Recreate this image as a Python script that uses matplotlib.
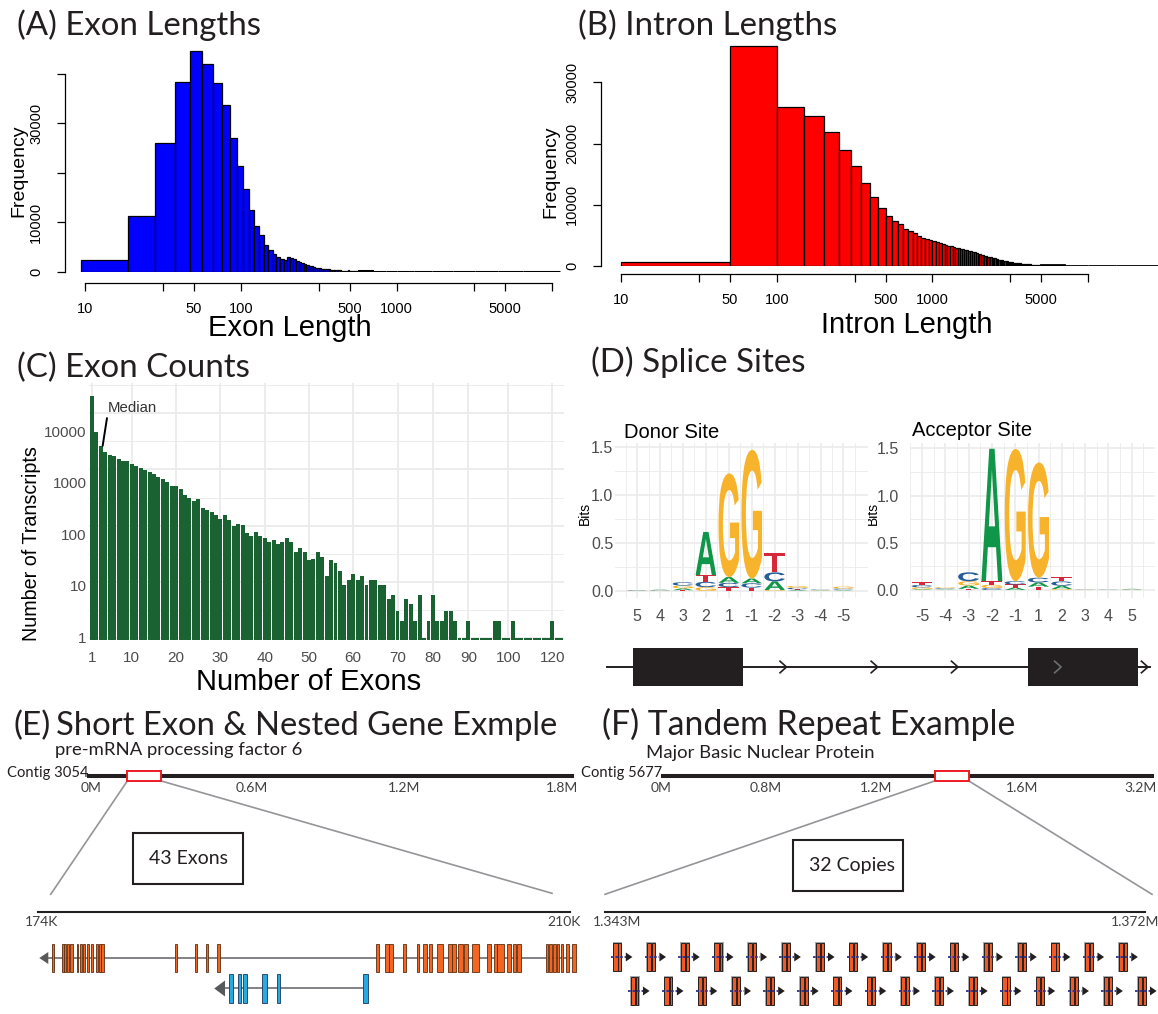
import numpy as np
import matplotlib.pyplot as plt
from matplotlib.patches import Rectangle, Polygon, PathPatch
from matplotlib.textpath import TextPath
from matplotlib.font_manager import FontProperties
from matplotlib.transforms import Affine2D
from matplotlib.ticker import NullFormatter, NullLocator

plt.rcParams['font.family'] = 'Liberation Sans'

W, H = 1158, 1014

# ---- (A) exon lengths: counts per 9.4 bp bin, first bin starts at 9.4 bp
exon_bin_width = 9.4
exon_counts = [2300, 11350, 26000, 38400, 44700, 42000, 38100, 33700, 27000, 21300,
               16800, 12400, 9350, 7350, 5450, 4300, 3650, 3000, 2600, 2300,
               2900, 2850, 2500, 2250, 2050, 1850, 1650, 1450, 1250, 1100,
               960, 820, 750, 690, 630, 580, 540, 500, 460, 420,
               390, 360, 330, 300, 270, 250, 230, 210, 190, 170,
               150, 300, 130, 115, 100, 90, 80, 70, 65, 60]
# long tail, merged into wider bins (counts per 9.4 bp)
exon_tail_edges = [573.4, 700, 850, 1000, 1300, 1700, 2300, 3200, 4500, 6500, 11300]
exon_tail_counts = [45, 30, 20, 12, 7, 4, 3, 2, 1, 1]

# ---- (B) intron lengths: counts per 50 bp bin, bins from 0 bp to 4950 bp
intron_bin_width = 50
intron_counts = [600, 36000, 26050, 24470, 21850, 18960, 16350, 13620, 11280, 9480,
                 8170, 7300, 6810, 6100, 5780, 5340, 4900, 4630, 4420, 4250,
                 4100, 3920, 3760, 3610, 3470, 3340, 3220, 3110, 3000, 2900,
                 2800, 2710, 2630, 2560, 2490, 2420, 2330, 2230, 2140, 2040,
                 1950, 1860, 1780, 1700, 1620, 1550, 1480, 1410, 1350, 1290,
                 1230, 1170, 1120, 1060, 1010, 960, 910, 860, 820, 780,
                 740, 710, 680, 650, 620, 595, 570, 545, 520, 500,
                 480, 460, 440, 420, 400, 385, 370, 355, 340, 325,
                 310, 295, 280, 270, 258, 246, 235, 225, 215, 205,
                 196, 188, 180, 172, 165, 158, 151, 145, 139, 133]
intron_tail_edges = [5000, 7000, 10000, 15000, 28000]
intron_tail_counts = [90, 40, 15, 4]

len_tick_labels = [10, 50, 100, 500, 1000, 5000]
len_minor_ticks = [10 ** 1.5, 10 ** 2.5, 10 ** 3.5, 10 ** 4]

# ---- (C) number of transcripts per exon count
c_exons = list(range(1, 71)) + [71, 72, 73, 74, 75, 76, 78, 80,
                                 81, 82, 83, 84, 85, 86, 88, 90,
                                 91, 92, 93, 94, 95, 96, 97, 99, 100,
                                 101, 102, 103, 105, 106, 108, 110, 113, 117, 120,
                                 122, 127]
c_counts = [20400, 4560, 2630, 2050, 1810, 1740, 1520, 1420, 1410, 1250,
            1150, 1050, 980, 900, 830, 740, 670, 610, 505, 505,
            450, 345, 310, 275, 295, 205, 190, 175, 155, 130,
            153, 125, 100, 107, 104, 73, 66, 77, 66, 60,
            51, 55, 47, 51, 60, 51, 34, 40, 34, 25,
            26, 34, 28, 13, 25, 22, 16, 9, 11, 14,
            11, 13, 9, 11, 11, 9, 9, 5, 6, 3,
            2, 5, 4, 2, 6, 1, 2, 6, 2, 2,
            3, 3, 2, 1, 1, 2, 1, 1, 1, 1,
            1, 2, 2, 1, 1, 2, 1, 1, 1, 1,
            1, 1, 1, 1, 2, 1, 1]
c_label_exons = [1, 10, 20, 30, 40, 50, 60, 70, 80, 90, 100, 120]
c_ytick_labels = ['1', '10', '100', '1000', '10000']
c_ytick_pos = [1.04, 8.6, 71, 580, 4700]
median_exons = 3

# ---- (D) splice site logos, information content (bits) per base
donor_pos = ['5', '4', '3', '2', '1', '-1', '-2', '-3', '-4', '-5']
donor_bits = {
    'A': [0.003, 0.005, 0.020, 0.450, 0.060, 0.050, 0.090, 0.008, 0.004, 0.006],
    'C': [0.004, 0.004, 0.035, 0.055, 0.045, 0.045, 0.094, 0.015, 0.005, 0.012],
    'G': [0.002, 0.003, 0.028, 0.040, 1.080, 1.340, 0.010, 0.020, 0.004, 0.020],
    'T': [0.001, 0.002, 0.008, 0.070, 0.040, 0.035, 0.200, 0.010, 0.003, 0.008],
}
acceptor_pos = ['-5', '-4', '-3', '-2', '-1', '1', '2', '3', '4', '5']
acceptor_bits = {
    'A': [0.008, 0.005, 0.035, 1.400, 0.025, 0.045, 0.035, 0.002, 0.002, 0.006],
    'C': [0.025, 0.008, 0.095, 0.020, 0.035, 0.050, 0.045, 0.002, 0.002, 0.002],
    'G': [0.020, 0.010, 0.045, 0.035, 1.400, 1.220, 0.010, 0.002, 0.001, 0.003],
    'T': [0.028, 0.006, 0.012, 0.040, 0.033, 0.035, 0.050, 0.002, 0.001, 0.001],
}
# schematic gene model (0-100 along the transcript)
schem_exons = [(4.9, 25.1), (77.6, 97.8)]
schem_arrows = [33.1, 49.9, 64.7, 83.7, 99.7]

# ---- (E) PRPF6 locus on contig 3054, exon coordinates in kb
prpf6_exons = [(174.96, 175.08), (175.64, 175.77), (175.77, 175.89), (175.94, 176.09),
               (176.16, 176.34), (176.61, 176.72), (176.84, 176.99), (177.06, 177.18),
               (177.29, 177.45), (177.58, 177.74), (177.90, 178.08), (178.14, 178.28),
               (178.28, 178.46), (183.27, 183.43), (184.60, 184.74), (185.37, 185.53),
               (186.14, 186.32), (196.88, 197.11), (197.51, 197.74), (197.78, 198.01),
               (198.73, 198.91), (199.64, 199.81), (200.08, 200.32), (200.47, 200.69),
               (200.99, 201.44), (201.78, 202.01), (202.05, 202.28), (202.46, 202.79),
               (202.84, 203.13), (203.40, 203.88), (204.42, 204.65), (204.87, 205.06),
               (205.10, 205.55), (205.77, 206.00), (206.14, 206.36), (206.45, 206.68),
               (208.37, 208.55), (208.62, 208.80), (208.87, 209.05), (209.12, 209.30),
               (209.38, 209.56), (209.75, 209.95), (210.13, 210.42)]
prpf6_span = (174.08, 210.45)
nested_exons = [(186.93, 187.22), (187.54, 187.74), (187.90, 188.12),
                (189.18, 189.48), (190.16, 190.38), (196.02, 196.32)]
nested_span = (185.93, 196.10)

# ---- (F) tandem copies of MBNP on contig 5677, copy starts in kb
copies_row1 = [1342.77, 1344.65, 1346.54, 1348.43, 1350.31, 1352.20, 1354.09, 1355.97,
               1357.86, 1359.75, 1361.63, 1363.52, 1365.41, 1367.29, 1369.18, 1371.07]
copies_row2 = [1343.73, 1345.63, 1347.52, 1349.41, 1351.30, 1353.20, 1355.09, 1356.98,
               1358.87, 1360.77, 1362.66, 1364.55, 1366.44, 1368.33, 1370.23, 1372.12]


fig = plt.figure(figsize=(W / 100, H / 100), dpi=100)


def px_axes(x0, y0, x1, y1):
    return fig.add_axes([x0 / W, 1 - y1 / H, (x1 - x0) / W, (y1 - y0) / H])


# full-figure layer for titles, labels and the genome-browser furniture
ov = fig.add_axes([0, 0, 1, 1])
ov.set_xlim(0, W)
ov.set_ylim(H, 0)
ov.axis('off')

ink = '#231F20'
title_kw = dict(family='Lato', color=ink, va='baseline', ha='left')
ov.text(16.6, 35, '(A) Exon Lengths', fontsize=23.8, **title_kw)
ov.text(578, 35, '(B) Intron Lengths', fontsize=23.8, **title_kw)
ov.text(16.6, 377, '(C) Exon Counts', fontsize=23.8, **title_kw)
ov.text(591, 372, '(D) Splice Sites', fontsize=23.8, **title_kw)
ov.text(13.5, 735, '(E)', fontsize=24, **title_kw)
ov.text(55.5, 735, 'Short Exon & Nested Gene Exmple', fontsize=23.6, **title_kw)
ov.text(602, 735, '(F) Tandem Repeat Example', fontsize=24.3, **title_kw)


# ---------------- base-R style histograms (A, B)
def r_axes(ax, yticks, ylabels, left_out, bottom_out):
    ax.set_xscale('log')
    ax.spines[['top', 'right']].set_visible(False)
    ax.spines['left'].set_position(('outward', left_out))
    ax.spines['bottom'].set_position(('outward', bottom_out))
    ax.spines['left'].set_bounds(yticks[0], yticks[-1])
    ax.spines['bottom'].set_bounds(10, 10000)
    for s in ['left', 'bottom']:
        ax.spines[s].set_linewidth(0.9)
    ax.set_xticks(len_tick_labels, [str(v) for v in len_tick_labels])
    ax.set_xticks(len_minor_ticks, [''] * len(len_minor_ticks), minor=True)
    ax.xaxis.set_minor_formatter(NullFormatter())
    ax.set_yticks(yticks, ylabels)
    ax.tick_params(which='both', length=5.8, width=0.9, labelsize=10.5)
    ax.tick_params(axis='x', which='both', pad=8)
    ax.tick_params(axis='y', labelrotation=90, pad=10)
    plt.setp(ax.get_yticklabels(), va='center')
    ax.patch.set_visible(False)


axA = px_axes(70, 45, 565, 271.7)
a_left = exon_bin_width * np.arange(1, len(exon_counts) + 1)
axA.bar(a_left, exon_counts, width=exon_bin_width, align='edge',
        color='#0000FF', edgecolor='black', linewidth=0.9)
axA.bar(exon_tail_edges[:-1], exon_tail_counts, width=np.diff(exon_tail_edges), align='edge',
        color='#0000FF', edgecolor='black', linewidth=2.2)
r_axes(axA, [0, 10000, 20000, 30000, 40000], ['0', '10000', '', '30000', ''], 3.5, 8.1)
axA.set_xlim(10 ** 0.903, 10 ** 4.082)
axA.set_ylim(0, 45890)

axB = px_axes(605, 40, 1158, 266)
b_starts = intron_bin_width * np.arange(len(intron_counts))
b_left = np.maximum(b_starts, 10)
b_right = b_starts + intron_bin_width
axB.bar(b_left, intron_counts, width=b_right - b_left, align='edge',
        color='#FF0000', edgecolor='black', linewidth=0.9)
axB.bar(intron_tail_edges[:-1], intron_tail_counts, width=np.diff(intron_tail_edges), align='edge',
        color='#FF0000', edgecolor='black', linewidth=2.0)
r_axes(axB, [0, 10000, 20000, 30000], ['0', '10000', '20000', '30000'], 2.9, 6.0)
axB.set_xlim(10 ** 0.897, 10 ** 4.449)
axB.set_ylim(0, 36930)

ov.text(18.5, 171, 'Frequency', rotation=90, fontsize=14, ha='center', va='center')
ov.text(290, 328, 'Exon Length', fontsize=21, ha='center', va='center')
ov.text(551, 172, 'Frequency', rotation=90, fontsize=14, ha='center', va='center')
ov.text(907, 325, 'Intron Length', fontsize=21, ha='center', va='center')

# ---------------- (C) ggplot style bar chart on log scale
grid_col = '#EBEBEB'
axC = px_axes(89.3, 383, 564, 640)
idx = np.arange(1, len(c_counts) + 1)
base = 10 ** -0.03
axC.bar(idx, np.array(c_counts) - base, bottom=base, width=0.9, color='#1B6233', zorder=2)
axC.set_yscale('log')
for v in 10.0 ** np.arange(5):
    axC.axhline(v, color=grid_col, lw=1.3, zorder=0)
for v in 10.0 ** (np.arange(5) + 0.5):
    axC.axhline(v, color=grid_col, lw=0.65, zorder=0)
c_tick_idx = [c_exons.index(v) + 1 for v in c_label_exons]
for i in c_tick_idx:
    axC.axvline(i, color=grid_col, lw=1.3, zorder=0)
axC.set_xticks(c_tick_idx, [str(v) for v in c_label_exons])
axC.set_yticks(c_ytick_pos, c_ytick_labels)
axC.yaxis.set_minor_locator(NullLocator())
axC.set_xlim(0.4, len(c_counts) + 0.6)
axC.set_ylim(base, 10 ** 4.535)
axC.tick_params(length=0, labelsize=11, labelcolor='#4D4D4D')
axC.tick_params(axis='x', pad=8)
axC.tick_params(axis='y', pad=1.9)
for s in axC.spines.values():
    s.set_visible(False)
m = c_exons.index(median_exons)
axC.annotate('Median', xy=(m + 1.42, c_counts[m]), xytext=(4.54, 12170),
             fontsize=10.8, color='#333333', ha='left', va='center',
             arrowprops=dict(arrowstyle='-', lw=1.4, color='black',
                             shrinkA=0, shrinkB=0, relpos=(0.0, 0.1)))
ov.text(31.4, 544, 'Number of Transcripts', rotation=90, fontsize=14.2, ha='center', va='center')
ov.text(309, 682, 'Number of Exons', fontsize=21, ha='center', va='center')

# ---------------- (D) sequence logos
logo_font = FontProperties(family='Liberation Sans', weight='bold')
base_colors = {'A': '#109648', 'C': '#255C99', 'G': '#F7B32B', 'T': '#D62839'}


def draw_letter(ax, letter, x, y0, h, width=0.9):
    tp = TextPath((0, 0), letter, size=1, prop=logo_font)
    ext = tp.get_extents()
    tr = (Affine2D().translate(-ext.x0, -ext.y0)
          .scale(width / ext.width, h / ext.height)
          .translate(x - width / 2, y0))
    ax.add_patch(PathPatch(tr.transform_path(tp), facecolor=base_colors[letter],
                           lw=0, zorder=3))


def draw_logo(ax, bits, pos_labels, xlim, ylim, ypad):
    n = len(pos_labels)
    for i in range(n):
        y0 = 0.0
        for letter, vals in sorted(bits.items(), key=lambda kv: kv[1][i]):
            draw_letter(ax, letter, i + 1, y0, vals[i])
            y0 += vals[i]
    for v in np.arange(0, 1.51, 0.5):
        ax.axhline(v, color=grid_col, lw=1.2, zorder=0)
    for v in np.arange(0.25, 1.6, 0.5):
        ax.axhline(v, color=grid_col, lw=0.6, zorder=0)
    for p in range(1, n + 1):
        ax.axvline(p, color=grid_col, lw=1.2, zorder=0)
        ax.axvline(p - 0.5, color=grid_col, lw=0.6, zorder=0)
    ax.axvline(n + 0.5, color=grid_col, lw=0.6, zorder=0)
    ax.set_xticks(range(1, n + 1), pos_labels)
    ax.set_yticks([0, 0.5, 1.0, 1.5], ['0.0', '0.5', '1.0', '1.5'])
    ax.set_xlim(*xlim)
    ax.set_ylim(*ylim)
    ax.tick_params(length=0, labelsize=11.5, labelcolor='#4D4D4D')
    ax.tick_params(axis='x', pad=8)
    ax.tick_params(axis='y', pad=ypad)
    for s in ax.spines.values():
        s.set_visible(False)


axDon = px_axes(615, 443, 867.5, 598)
draw_logo(axDon, donor_bits, donor_pos, (0.036, 11.05), (-0.073, 1.542), 1.3)
axAcc = px_axes(909.9, 443, 1155, 598)
draw_logo(axAcc, acceptor_bits, acceptor_pos, (0.48, 11.0), (-0.085, 1.556), 8)
ov.text(623.5, 433, 'Donor Site', fontsize=14.5, ha='left', va='center')
ov.text(911.7, 431, 'Acceptor Site', fontsize=14.5, ha='left', va='center')
ov.text(584.4, 513, 'Bits', rotation=90, fontsize=10, ha='center', va='center')
ov.text(873, 513, 'Bits', rotation=90, fontsize=10, ha='center', va='center')

axG = px_axes(600, 640, 1155, 694)
axG.plot([0, 100], [0, 0], color=ink, lw=1.4)
for s, e in schem_exons:
    axG.add_patch(Rectangle((s, -1.0), e - s, 2.0, facecolor=ink, edgecolor='none'))
for p in schem_arrows:
    inside = any(s < p < e for s, e in schem_exons)
    axG.plot([p - 1.2, p, p - 1.2], [0.3, 0, -0.3], color='#6D6E71' if inside else ink, lw=1.2)
axG.set_xlim(-1.27, 101.0)
axG.set_ylim(-1.4, 1.4)
axG.axis('off')

# ---------------- (E) / (F) genome browser views
lab_kw = dict(family='Lato', color=ink)
grey = '#939598'
tick_kw = dict(family='Lato', fontsize=10, color='#414042', ha='center', va='center')

ov.text(54.8, 755, 'pre-mRNA processing factor 6', fontsize=13.3, ha='left', va='baseline', **lab_kw)
ov.text(88.5, 777, 'Contig 3054', fontsize=10.6, ha='right', va='baseline', **lab_kw)
ov.plot([88.8, 571.6], [776, 776], color=ink, lw=2.9)
ov.add_patch(Rectangle((127.3, 770.5), 34, 10.2, facecolor='white', edgecolor='#ED1C24', lw=1.4, zorder=3))
for x, s in [(90.6, '0M'), (251.6, '0.6M'), (404, '1.2M'), (562.3, '1.8M')]:
    ov.text(x, 787.5, s, **tick_kw)
ov.plot([127.3, 50.7], [781, 894.3], color=grey, lw=1.2)
ov.plot([161.3, 552], [781, 893.3], color=grey, lw=1.2)
ov.add_patch(Rectangle((133.2, 833.3), 110.2, 50.7, facecolor='white', edgecolor=ink, lw=1.5))
ov.text(188.3, 859, '43 Exons', fontsize=14, ha='center', va='center', **lab_kw)
ov.plot([38.1, 569.7], [911.7, 911.7], color=ink, lw=1.5)
ov.text(41.8, 921.5, '174K', **tick_kw)
ov.text(564.2, 921.5, '210K', **tick_kw)

ov.text(646.3, 758, 'Major Basic Nuclear Protein', fontsize=13.3, ha='left', va='baseline', **lab_kw)
ov.text(662.5, 777, 'Contig 5677', fontsize=10.6, ha='right', va='baseline', **lab_kw)
ov.plot([663, 1152.4], [776, 776], color=ink, lw=2.9)
ov.add_patch(Rectangle((934.6, 771), 34.3, 10.2, facecolor='white', edgecolor='#ED1C24', lw=1.4, zorder=3))
for x, s in [(661, '0M'), (766, '0.8M'), (876, '1.2M'), (1022.3, '1.6M'), (1140.3, '3.2M')]:
    ov.text(x, 787.5, s, **tick_kw)
ov.plot([934.6, 605], [781, 894.3], color=grey, lw=1.2)
ov.plot([968.9, 1152], [781, 894.3], color=grey, lw=1.2)
ov.add_patch(Rectangle((793, 840), 109.5, 50.7, facecolor='white', edgecolor=ink, lw=1.5))
ov.text(852, 865, '32 Copies', fontsize=14, ha='center', va='center', **lab_kw)
ov.plot([605, 1145], [911.7, 911.7], color=ink, lw=1.5)
ov.text(616.9, 921.5, '1.343M', **tick_kw)
ov.text(1134.7, 921.5, '1.372M', **tick_kw)

# gene models for PRPF6 and the nested gene (minus strand)
axE = px_axes(0, 935, 580, 1012)
axE.set_xlim(171.42, 210.70)
axE.set_ylim(1012, 935)
axE.axis('off')
row_a, row_b = 958, 988.5
axE.plot([prpf6_span[0] + 0.4, prpf6_span[1]], [row_a, row_a], color='#808285', lw=1.4, zorder=1)
axE.add_patch(Polygon([(prpf6_span[0], row_a), (prpf6_span[0] + 0.61, row_a - 6),
                       (prpf6_span[0] + 0.61, row_a + 6)], facecolor='#58595B', lw=0))
for s, e in prpf6_exons:
    axE.add_patch(Rectangle((s, row_a - 14), e - s, 28, facecolor='#F26522',
                            edgecolor='#5C2D0F', lw=0.6, zorder=2))
axE.plot([nested_span[0] + 0.4, nested_span[1]], [row_b, row_b], color='#808285', lw=1.4, zorder=1)
axE.add_patch(Polygon([(nested_span[0], row_b), (nested_span[0] + 0.73, row_b - 8),
                       (nested_span[0] + 0.73, row_b + 8)], facecolor='#58595B', lw=0))
for s, e in nested_exons:
    axE.add_patch(Rectangle((s, row_b - 14.5), e - s, 29, facecolor='#27AAE1',
                            edgecolor='#1B365D', lw=0.6, zorder=2))

# tandem copies, plus strand, stacked in two rows
axF = px_axes(580, 935, 1158, 1012)
axF.set_xlim(1340.935, 1373.297)
axF.set_ylim(1012, 935)
axF.axis('off')
for starts, y in [(copies_row1, 957), (copies_row2, 991)]:
    for s in starts:
        axF.add_patch(Rectangle((s, y - 15), 0.54, 30, facecolor='#A7A9AC', lw=0, zorder=1))
        axF.add_patch(Rectangle((s + 0.034, y - 14), 0.235, 28, facecolor='#F15A24',
                                edgecolor=ink, lw=0.7, zorder=2))
        axF.add_patch(Rectangle((s + 0.32, y - 14), 0.16, 28, facecolor='#F15A24',
                                edgecolor=ink, lw=0.7, zorder=2))
        axF.plot([s - 0.1, s + 0.73], [y, y], color='#2E3192', lw=1.3,
                 ls=(0, (1.5, 1)), zorder=3)
        axF.add_patch(Polygon([(s + 0.73, y - 4.5), (s + 0.73, y + 4.5), (s + 1.1, y)],
                              facecolor=ink, lw=0, zorder=3))

fig.savefig('out.png', dpi=100)
